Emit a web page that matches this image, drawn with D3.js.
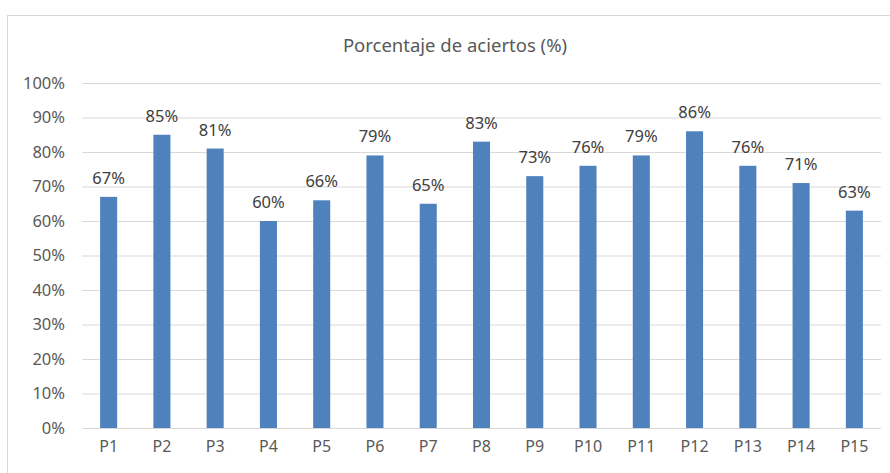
<!DOCTYPE html>
<html>
<head>
<meta charset="utf-8">
<script src="https://cdn.jsdelivr.net/npm/d3@7"></script>
<style>
  body { margin: 0; background: #fff; }
  svg { display: block; font-family: "Noto Sans", "Open Sans", sans-serif; }
</style>
</head>
<body>
<svg id="chart" width="890" height="473"></svg>
<script>
// chart data
const categories = ["P1","P2","P3","P4","P5","P6","P7","P8","P9","P10","P11","P12","P13","P14","P15"];
const values = [67, 85, 81, 60, 66, 79, 65, 83, 73, 76, 79, 86, 76, 71, 63];
const yTicks = [0, 10, 20, 30, 40, 50, 60, 70, 80, 90, 100];
const title = "Porcentaje de aciertos (%)";

const svg = d3.select("#chart");

// outer chart frame (runs off the right / bottom edge like the screenshot)
svg.append("rect")
  .attr("x", 7.5).attr("y", 15.5)
  .attr("width", 900).attr("height", 500)
  .attr("fill", "#fff")
  .attr("stroke", "#d9d9d9");

const plotLeft = 82, plotRight = 881, plotTop = 83, plotBottom = 428;

const x = d3.scaleBand()
  .domain(categories)
  .range([plotLeft, plotRight])
  .paddingInner(0.68)
  .paddingOuter(0.34);

const y = d3.scaleLinear().domain([0, 100]).range([plotBottom, plotTop]);

//gridlines
svg.append("g")
  .selectAll("line")
  .data(yTicks)
  .join("line")
  .attr("x1", plotLeft).attr("x2", plotRight)
  .attr("y1", d => y(d) + 0.5).attr("y2", d => y(d) + 0.5)
  .attr("stroke", "#d9d9d9")
  .attr("stroke-width", 1);

//y axis labels
const yAxis = d3.axisLeft(y).tickValues(yTicks).tickFormat(d => d + "%").tickSize(0).tickPadding(0);
svg.append("g")
  .attr("transform", `translate(65,0)`)
  .call(yAxis)
  .call(g => g.select(".domain").remove())
  .call(g => g.selectAll("text")
    .attr("font-size", 16.5)
    .attr("font-family", "Noto Sans, sans-serif")
    .attr("fill", "#595959"));

//x axis labels
const xAxis = d3.axisBottom(x).tickSize(0).tickPadding(0);
svg.append("g")
  .attr("transform", `translate(0,${plotBottom + 13})`)
  .call(xAxis)
  .call(g => g.select(".domain").remove())
  .call(g => g.selectAll("text")
    .attr("font-size", 16)
    .attr("font-family", "Noto Sans, sans-serif")
    .attr("fill", "#595959"));

//bars
svg.append("g")
  .selectAll("rect")
  .data(values)
  .join("rect")
  .attr("x", (d, i) => x(categories[i]))
  .attr("y", d => y(d))
  .attr("width", x.bandwidth())
  .attr("height", d => plotBottom - y(d))
  .attr("fill", "#4f81bd");

//data labels
svg.append("g")
  .selectAll("text")
  .data(values)
  .join("text")
  .attr("x", (d, i) => x(categories[i]) + x.bandwidth() / 2)
  .attr("y", d => y(d) - 13)
  .attr("text-anchor", "middle")
  .attr("font-size", 16.5)
  .attr("fill", "#404040")
  .text(d => d + "%");

//title
svg.append("text")
  .attr("x", 455)
  .attr("y", 52)
  .attr("text-anchor", "middle")
  .attr("font-size", 18.5)
  .attr("fill", "#595959")
  .text(title);
</script>
</body>
</html>
